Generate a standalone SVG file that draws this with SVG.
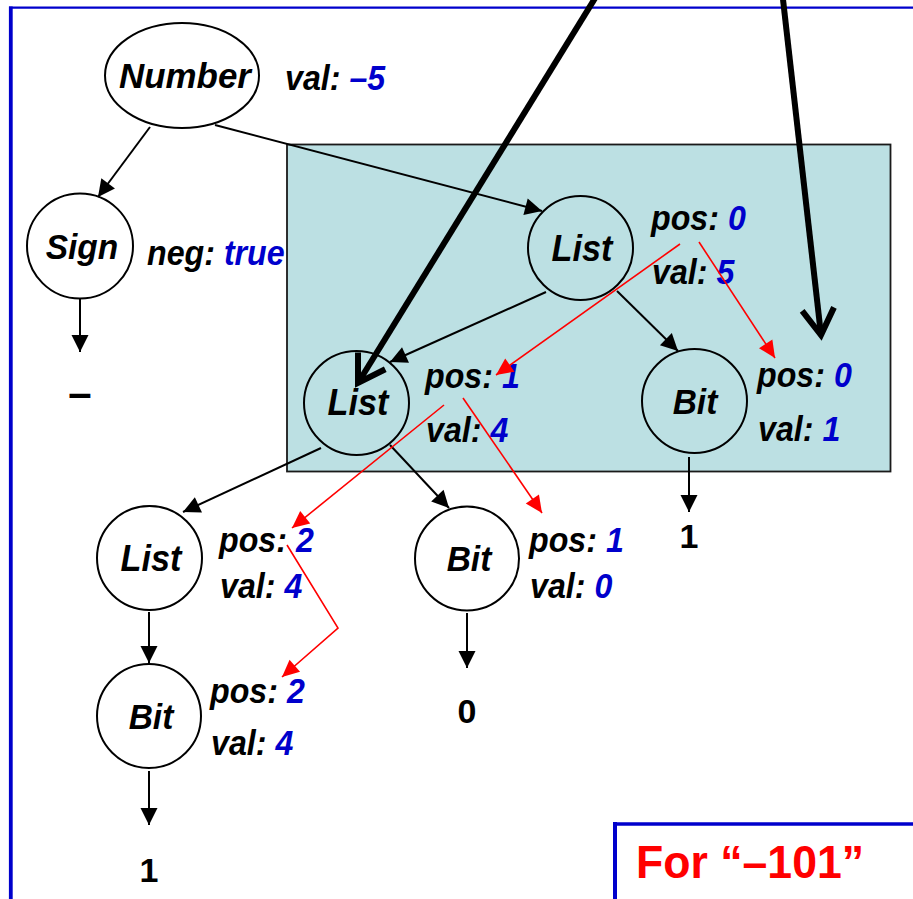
<svg xmlns="http://www.w3.org/2000/svg" width="913" height="899" viewBox="0 0 913 899">
<style>
.nd{fill:none;stroke:#000;stroke-width:2}
.lb{font-family:"Liberation Sans",Arial,sans-serif;font-weight:bold;font-style:italic;font-size:36px;fill:#000;text-anchor:middle}
.at{font-family:"Liberation Sans",Arial,sans-serif;font-weight:bold;font-style:italic;font-size:35px;fill:#000}
.v{fill:#0000CC}
.out{font-family:"Liberation Sans",Arial,sans-serif;font-weight:bold;font-size:34px;fill:#000;text-anchor:middle}
.blk{stroke:#000;stroke-width:2;fill:none;marker-end:url(#ah)}
.red{stroke:#FF0000;stroke-width:1.6;fill:none;marker-end:url(#rh)}
.thk{stroke:#000;stroke-width:6;fill:none;marker-end:url(#th)}
</style>
<defs>
<marker id="ah" markerUnits="userSpaceOnUse" viewBox="-18 -9 20 18" markerWidth="20" markerHeight="18" refX="0" refY="0" orient="auto" overflow="visible">
<path d="M0,0 L-17,-8.5 L-17,8.5 Z" fill="#000"/>
</marker>
<marker id="rh" markerUnits="userSpaceOnUse" viewBox="-18 -9 20 18" markerWidth="20" markerHeight="18" refX="0" refY="0" orient="auto" overflow="visible">
<path d="M0,0 L-17,-8 L-17,8 Z" fill="#FF0000"/>
</marker>
<marker id="th" markerUnits="userSpaceOnUse" viewBox="-32 -20 36 40" markerWidth="36" markerHeight="40" refX="0" refY="0" orient="auto" overflow="visible">
<path d="M-26,-16 L0,0 L-26,16" fill="none" stroke="#000" stroke-width="6" stroke-linejoin="miter"/>
</marker>
</defs>
<rect x="0" y="0" width="913" height="899" fill="#fff"/>
<g id="frame">
<line x1="9" y1="7.7" x2="913" y2="7.7" stroke="#0000CC" stroke-width="2.2"/>
<line x1="10.8" y1="6.6" x2="10.8" y2="899" stroke="#0000CC" stroke-width="3.8"/>
</g>
<!-- Sign attribute (partly covered by the panel) -->
<text class="at" transform="translate(147,265) scale(0.92,1)">neg: <tspan class="v">true</tspan></text>
<!-- highlighted panel -->
<rect id="panel" x="287" y="144.5" width="603.5" height="327" fill="#BCE0E3" stroke="#1a1a1a" stroke-width="1.8"/>
<g id="connectors">
<line class="blk" x1="150" y1="127" x2="98" y2="197"/>
<line class="blk" x1="80" y1="299" x2="80" y2="352"/>
<line class="blk" x1="215" y1="125" x2="542" y2="211"/>
<line class="blk" x1="546" y1="292" x2="390" y2="362"/>
<line class="blk" x1="617" y1="291" x2="678" y2="351"/>
<line class="blk" x1="321" y1="448" x2="183" y2="512"/>
<line class="blk" x1="390" y1="445" x2="449" y2="508"/>
<line class="blk" x1="689" y1="457" x2="689" y2="512"/>
<line class="blk" x1="149" y1="612" x2="149" y2="663"/>
<line class="blk" x1="467" y1="613" x2="467" y2="668"/>
<line class="blk" x1="149" y1="771" x2="149" y2="825"/>
</g>
<g id="node-number">
<ellipse class="nd" cx="182" cy="75.5" rx="77" ry="52.5"/>
<text class="lb" transform="translate(185,88) scale(0.97,1)">Number</text>
<text class="at" transform="translate(285,90) scale(0.92,1)">val: <tspan class="v">–5</tspan></text>
</g>
<g id="node-sign">
<ellipse class="nd" cx="80" cy="246" rx="53" ry="52.5"/>
<text class="lb" transform="translate(82,259) scale(0.93,1)">Sign</text>
</g>
<g id="node-list1">
<ellipse class="nd" cx="580.5" cy="248" rx="52.5" ry="52"/>
<text class="lb" transform="translate(582,261) scale(0.95,1)">List</text>
<text class="at" transform="translate(651,230) scale(0.92,1)">pos: <tspan class="v">0</tspan></text>
<text class="at" transform="translate(652,284) scale(0.92,1)">val: <tspan class="v">5</tspan></text>
</g>
<g id="node-list2">
<ellipse class="nd" cx="356.5" cy="403" rx="52.5" ry="52"/>
<text class="lb" transform="translate(358,415) scale(0.95,1)">List</text>
<text class="at" transform="translate(425,388) scale(0.92,1)">pos: <tspan class="v">1</tspan></text>
<text class="at" transform="translate(426,442) scale(0.92,1)">val: <tspan class="v">4</tspan></text>
</g>
<g id="node-bit1">
<ellipse class="nd" cx="694.5" cy="401" rx="52.5" ry="52"/>
<text class="lb" transform="translate(695,414) scale(0.93,1)">Bit</text>
<text class="at" transform="translate(757,387) scale(0.92,1)">pos: <tspan class="v">0</tspan></text>
<text class="at" transform="translate(758,441) scale(0.92,1)">val: <tspan class="v">1</tspan></text>
</g>
<g id="node-list3">
<ellipse class="nd" cx="149.5" cy="558" rx="52.5" ry="52"/>
<text class="lb" transform="translate(151,571) scale(0.95,1)">List</text>
<text class="at" transform="translate(219,552) scale(0.92,1)">pos: <tspan class="v">2</tspan></text>
<text class="at" transform="translate(220,598) scale(0.92,1)">val: <tspan class="v">4</tspan></text>
</g>
<g id="node-bit2">
<ellipse class="nd" cx="467" cy="558.5" rx="52" ry="52"/>
<text class="lb" transform="translate(469,571) scale(0.93,1)">Bit</text>
<text class="at" transform="translate(529,552) scale(0.92,1)">pos: <tspan class="v">1</tspan></text>
<text class="at" transform="translate(530,598) scale(0.92,1)">val: <tspan class="v">0</tspan></text>
</g>
<g id="node-bit3">
<ellipse class="nd" cx="149" cy="716" rx="52" ry="52"/>
<text class="lb" transform="translate(151,729) scale(0.93,1)">Bit</text>
<text class="at" transform="translate(210,703) scale(0.92,1)">pos: <tspan class="v">2</tspan></text>
<text class="at" transform="translate(211,755) scale(0.92,1)">val: <tspan class="v">4</tspan></text>
</g>
<g id="outputs">
<text class="out" x="80" y="407" style="font-size:42px">–</text>
<text class="out" x="689" y="548">1</text>
<text class="out" x="467" y="723">0</text>
<text class="out" x="149" y="882">1</text>
</g>
<g id="flow">
<line class="red" x1="680" y1="244" x2="496" y2="375"/>
<line class="red" x1="699" y1="242" x2="775" y2="358"/>
<line class="red" x1="444" y1="405" x2="292" y2="528"/>
<line class="red" x1="463" y1="398" x2="542" y2="513"/>
<polyline class="red" points="287,545 338,628 282,677"/>
</g>
<g id="pointers">
<line class="thk" x1="597" y1="-5" x2="358" y2="383"/>
<line class="thk" x1="782.5" y1="-5" x2="821" y2="335"/>
</g>
<g id="caption">
<line x1="613" y1="824" x2="913" y2="824" stroke="#0000CC" stroke-width="3.5"/>
<line x1="615" y1="822" x2="615" y2="899" stroke="#0000CC" stroke-width="4"/>
<text transform="translate(636,878) scale(0.97,1)" style="font-family:'Liberation Sans',Arial,sans-serif;font-weight:bold;font-size:46px;fill:#FF0000">For “–101”</text>
</g>
</svg>
